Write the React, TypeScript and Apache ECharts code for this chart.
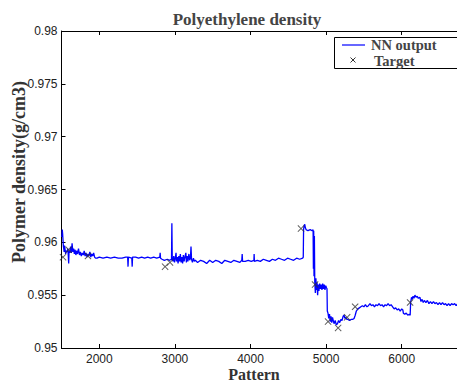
import React, { useEffect, useRef } from "react";
import * as echarts from "echarts";

const nnPattern = [
  1505, 1510, 1515, 1520, 1525, 1530, 1535, 1540, 1548, 1555, 1562, 1575, 1585, 1595, 1600, 1610, 1620, 1630, 1640, 1650,
  1660, 1670, 1680, 1690, 1700, 1712, 1725, 1738, 1750, 1762, 1775, 1788, 1800, 1812, 1825, 1838, 1850, 1862, 1875, 1888,
  1900, 1912, 1925, 1938, 1950, 1970, 2000, 2050, 2100, 2150, 2200, 2250, 2300, 2350, 2375, 2380, 2385, 2430, 2435, 2440,
  2480, 2520, 2560, 2600, 2640, 2680, 2720, 2760, 2800, 2805, 2810, 2830, 2860, 2900, 2930, 2955, 2960, 2965, 2975, 2985,
  2995, 3005, 3015, 3022, 3032, 3042, 3052, 3062, 3072, 3082, 3092, 3102, 3112, 3122, 3132, 3145, 3152, 3162, 3172, 3185,
  3195, 3205, 3213, 3220, 3232, 3245, 3258, 3270, 3300, 3340, 3380, 3420, 3460, 3500, 3540, 3580, 3620, 3660, 3700, 3740,
  3780, 3820, 3860, 3885, 3890, 3895, 3930, 3970, 4010, 4045, 4048, 4052, 4090, 4130, 4170, 4210, 4250, 4290, 4330, 4370,
  4410, 4450, 4490, 4530, 4570, 4610, 4650, 4690, 4698, 4702, 4710, 4718, 4725, 4735, 4760, 4790, 4815, 4828, 4832, 4836,
  4840, 4845, 4850, 4858, 4865, 4872, 4880, 4888, 4895, 4905, 4915, 4925, 4935, 4945, 4955, 4965, 4975, 4985, 4995, 5005,
  5012, 5016, 5025, 5035, 5045, 5055, 5065, 5075, 5085, 5095, 5105, 5120, 5135, 5150, 5165, 5180, 5195, 5210, 5225, 5238,
  5248, 5260, 5275, 5290, 5310, 5330, 5350, 5370, 5385, 5400, 5420, 5440, 5460, 5480, 5500, 5520, 5540, 5560, 5580, 5600,
  5620, 5640, 5660, 5680, 5700, 5720, 5740, 5760, 5780, 5800, 5820, 5840, 5860, 5880, 5900, 5920, 5940, 5960, 5980, 6000,
  6015, 6022, 6040, 6060, 6080, 6100, 6112, 6118, 6130, 6140, 6150, 6162, 6175, 6190, 6205, 6220, 6240, 6255, 6270, 6285,
  6300, 6320, 6340, 6360, 6380, 6400, 6420, 6440, 6460, 6480, 6500, 6520, 6540, 6560, 6580, 6600, 6620, 6640, 6660, 6680,
  6700, 6720, 6740, 6760, 6780, 6800,
];

const nnDensity = [
  0.9605, 0.9612, 0.9608, 0.9602, 0.9596, 0.9594, 0.9591, 0.9597, 0.9593, 0.9589, 0.9592, 0.9591, 0.9594, 0.958, 0.9592, 0.959, 0.9596, 0.959, 0.9599, 0.9591,
  0.9594, 0.9589, 0.9593, 0.9588, 0.9592, 0.9589, 0.9594, 0.9588, 0.9591, 0.9587, 0.959, 0.9588, 0.9592, 0.9587, 0.959, 0.9586, 0.9589, 0.9587, 0.9591, 0.9586,
  0.9589, 0.9587, 0.959, 0.9586, 0.9585, 0.9585, 0.9586, 0.9585, 0.9586, 0.9585, 0.9586, 0.9585, 0.9585, 0.9586, 0.9586, 0.9577, 0.9586, 0.9585, 0.9577, 0.9586,
  0.9586, 0.9585, 0.9586, 0.9585, 0.9586, 0.9585, 0.9586, 0.9585, 0.9586, 0.959, 0.9585, 0.9584, 0.9583, 0.9584, 0.9583, 0.9584, 0.9618, 0.9584, 0.9582, 0.9587,
  0.9581, 0.9585, 0.959, 0.9582, 0.9586, 0.958, 0.9587, 0.9582, 0.9589, 0.9581, 0.9586, 0.958, 0.9588, 0.9582, 0.9586, 0.959, 0.9581, 0.9587, 0.9582, 0.9589,
  0.9583, 0.9585, 0.9596, 0.9584, 0.9581, 0.9585, 0.9582, 0.9583, 0.9581, 0.9583, 0.9582, 0.958, 0.9583, 0.9581, 0.9583, 0.9582, 0.958, 0.9583, 0.9582, 0.9581,
  0.9583, 0.9582, 0.9581, 0.9583, 0.9589, 0.9582, 0.9582, 0.9583, 0.9582, 0.9583, 0.9589, 0.9582, 0.9583, 0.9582, 0.9584, 0.9583, 0.9582, 0.9584, 0.9583, 0.9585,
  0.9584, 0.9583, 0.9585, 0.9584, 0.9583, 0.9585, 0.9584, 0.9585, 0.9586, 0.9612, 0.9616, 0.9617, 0.9614, 0.9612, 0.9611, 0.9612, 0.9611, 0.9612, 0.9575, 0.9611,
  0.9568, 0.9606, 0.9563, 0.9552, 0.9566, 0.9555, 0.9562, 0.955, 0.956, 0.9554, 0.9561, 0.9556, 0.956, 0.9555, 0.9561, 0.9556, 0.956, 0.9555, 0.9559, 0.9557,
  0.9556, 0.9535, 0.9533, 0.9528, 0.9532, 0.9525, 0.953, 0.9524, 0.9529, 0.9526, 0.9523, 0.9526, 0.9522, 0.9523, 0.9526, 0.9524, 0.9527, 0.9526, 0.953, 0.9531,
  0.9528, 0.9529, 0.9527, 0.9527, 0.9526, 0.9527, 0.9527, 0.9528, 0.9531, 0.9535, 0.9537, 0.9538, 0.9539, 0.954, 0.9539, 0.9541, 0.9539, 0.954, 0.9542, 0.954,
  0.9541, 0.9539, 0.9541, 0.954, 0.9542, 0.954, 0.9541, 0.9539, 0.9541, 0.954, 0.9542, 0.954, 0.9541, 0.9539, 0.9537, 0.9538, 0.9536, 0.9537, 0.9535, 0.9537,
  0.9536, 0.9533, 0.9532, 0.9533, 0.9531, 0.9532, 0.9531, 0.9543, 0.9548, 0.9546, 0.9549, 0.9547, 0.955, 0.9548, 0.9549, 0.9547, 0.9548, 0.9544, 0.9546, 0.9543,
  0.9545, 0.9543, 0.9545, 0.9542, 0.9544, 0.9542, 0.9544, 0.9542, 0.9543, 0.9541, 0.9543, 0.9541, 0.9543, 0.9541, 0.9542, 0.954, 0.9542, 0.954, 0.9542, 0.9541,
  0.9542, 0.954, 0.9542, 0.9541, 0.9542, 0.9541,
];

const targetPattern = [1520, 1595, 1850, 2870, 2935, 4668, 4854, 5026, 5159, 5278, 5384, 6111];
const targetDensity = [0.9586, 0.9593, 0.9587, 0.9577, 0.9581, 0.9613, 0.956, 0.9525, 0.9519, 0.9529, 0.9539, 0.9543];

const xTickValues = [2000, 3000, 4000, 5000, 6000, 7000];
const xLabelValues = [2000, 3000, 4000, 5000, 6000];

const TITLE = "Polyethylene density";
const X_NAME = "Pattern";
const Y_NAME = "Polymer density(g/cm3)";
const SERIES_NN = "NN output";
const SERIES_TARGET = "Target";

const CROSS = "path://M0,1L1,0L5,4L9,0L10,1L6,5L10,9L9,10L5,6L1,10L0,9L4,5Z";

export default function App() {
  const ref = useRef<HTMLDivElement>(null);
  useEffect(() => {
    if (!ref.current) return;
    const chart = echarts.init(ref.current, null, { renderer: "svg" });
    const serif = "'Liberation Serif', 'Times New Roman', serif";
    const sans = "'Liberation Sans', Arial, sans-serif";
    const axisCommon = {
      axisLine: { show: true, lineStyle: { color: "#000", width: 1 } },
      splitLine: { show: false },
    };
    chart.setOption({
      animation: false,
      backgroundColor: "#fff",
      grid: {
        left: 61.5,
        top: 31,
        width: 415.8,
        height: 317,
        containLabel: false,
        outerBoundsMode: "none",
      },
      xAxis: [
        {
          type: "value",
          min: 1500,
          max: 7000,
          position: "bottom",
          ...axisCommon,
          axisTick: { show: true, inside: true, length: 4, lineStyle: { color: "#000" }, customValues: xTickValues },
          axisLabel: {
            show: true,
            customValues: xLabelValues,
            formatter: (v: number) => String(v),
            margin: 5,
            fontFamily: sans,
            fontSize: 12,
            color: "#222",
          },
        },
        {
          type: "value",
          min: 1500,
          max: 7000,
          position: "top",
          ...axisCommon,
          axisTick: { show: true, inside: true, length: 4, lineStyle: { color: "#000" }, customValues: xTickValues },
          axisLabel: { show: false },
        },
      ],
      yAxis: {
        type: "value",
        min: 0.95,
        max: 0.98,
        interval: 0.005,
        ...axisCommon,
        axisTick: { show: true, inside: true, length: 4, lineStyle: { color: "#000" } },
        axisLabel: { margin: 4, fontFamily: sans, fontSize: 12, color: "#222" },
      },
      series: [
        {
          name: SERIES_NN,
          type: "line",
          data: nnPattern.map((p, i) => [p, nnDensity[i]]),
          showSymbol: false,
          symbol: "none",
          lineStyle: { color: "#0000ff", width: 1.3 },
          z: 2,
        },
        {
          name: SERIES_TARGET,
          type: "scatter",
          data: targetPattern.map((p, i) => [p, targetDensity[i]]),
          symbol: CROSS,
          symbolSize: 7,
          itemStyle: { color: "#333" },
          z: 3,
        },
      ],
      graphic: [
        {
          type: "text",
          x: 247,
          y: 19,
          style: {
            text: TITLE,
            fontFamily: serif,
            fontWeight: "bold",
            fontSize: 17,
            fill: "#444",
            textAlign: "center",
            textVerticalAlign: "middle",
          },
        },
        {
          type: "text",
          x: 254,
          y: 374,
          style: {
            text: X_NAME,
            fontFamily: serif,
            fontWeight: "bold",
            fontSize: 16,
            fill: "#333",
            textAlign: "center",
            textVerticalAlign: "middle",
          },
        },
        {
          type: "text",
          x: 19,
          y: 172,
          rotation: Math.PI / 2,
          style: {
            text: Y_NAME,
            fontFamily: serif,
            fontWeight: "bold",
            fontSize: 18,
            fill: "#333",
            textAlign: "center",
            textVerticalAlign: "middle",
          },
        },
        {
          type: "rect",
          shape: { x: 334.5, y: 37.5, width: 140, height: 31 },
          style: { fill: "#fff", stroke: "#000", lineWidth: 1 },
          z: 10,
        },
        {
          type: "line",
          shape: { x1: 342, y1: 45, x2: 365, y2: 45 },
          style: { stroke: "#0000ff", lineWidth: 1.2 },
          z: 11,
        },
        {
          type: "line",
          shape: { x1: 350.5, y1: 57.5, x2: 355.5, y2: 62.5 },
          style: { stroke: "#333", lineWidth: 1 },
          z: 11,
        },
        {
          type: "line",
          shape: { x1: 355.5, y1: 57.5, x2: 350.5, y2: 62.5 },
          style: { stroke: "#333", lineWidth: 1 },
          z: 11,
        },
        {
          type: "text",
          x: 371,
          y: 45,
          style: {
            text: SERIES_NN,
            fontFamily: serif,
            fontWeight: "bold",
            fontSize: 14.5,
            fill: "#444",
            textAlign: "left",
            textVerticalAlign: "middle",
          },
          z: 11,
        },
        {
          type: "text",
          x: 374,
          y: 60.5,
          style: {
            text: SERIES_TARGET,
            fontFamily: serif,
            fontWeight: "bold",
            fontSize: 14.5,
            fill: "#444",
            textAlign: "left",
            textVerticalAlign: "middle",
          },
          z: 11,
        },
      ],
    });
    return () => chart.dispose();
  }, []);
  return (
    <div
      ref={ref}
      style={{ position: "absolute", left: 0, top: 0, width: 457, height: 383, background: "#fff" }}
    />
  );
}
